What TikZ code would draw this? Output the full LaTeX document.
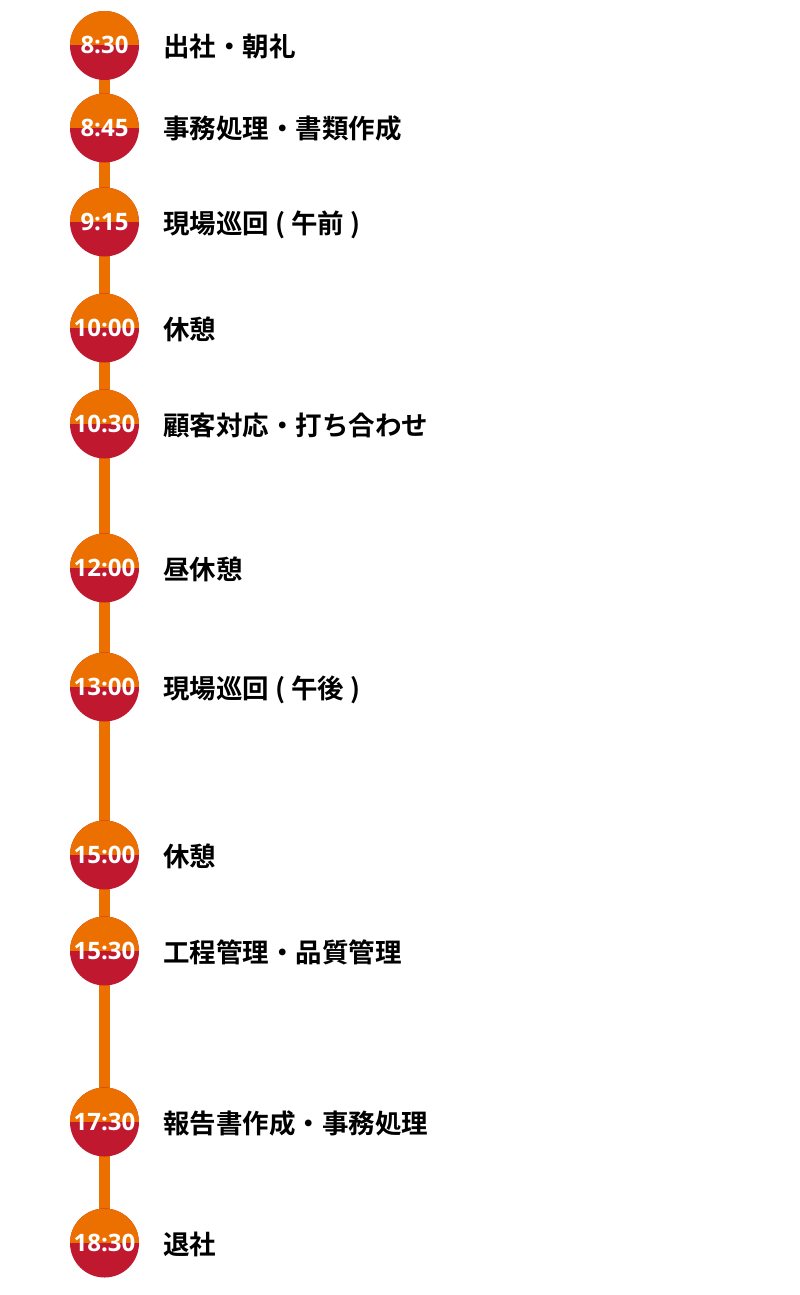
\documentclass[tikz,border=0pt]{standalone}
\usepackage{fontspec}
\newfontfamily\cjk{Noto Sans CJK JP}[BoldFont={Noto Sans CJK JP Bold}]
\newfontfamily\timefont{Open Sans}
\usetikzlibrary{backgrounds}
\definecolor{tlorange}{RGB}{236,112,0}
\definecolor{tlred}{RGB}{192,24,47}
\tikzset{
  timedot/.style={circle, minimum size=69pt, inner sep=0pt, fill=tlred,
    path picture={\fill[tlorange] (path picture bounding box.north west) rectangle (path picture bounding box.east);},
    text=white, font=\timefont\bfseries\fontsize{24}{24}\selectfont,
    text height=17pt, text depth=0pt},
  tasklabel/.style={anchor=base west, inner sep=0pt, font=\cjk\bfseries\fontsize{26.5}{26.5}\selectfont, text=black},
  timeline/.style={draw=tlorange, line width=11pt}
}
\begin{document}
\begin{tikzpicture}[x=1pt,y=-1pt]
\useasboundingbox (0,0) rectangle (800,1295);
\foreach \i/\y/\t/\l in {
  1/45.5/8:30/出社・朝礼,
  2/128/8:45/事務処理・書類作成,
  3/222/9:15/現場巡回 ( 午前 ),
  4/328/10:00/休憩,
  5/424/10:30/顧客対応・打ち合わせ,
  6/568/12:00/昼休憩,
  7/687/13:00/現場巡回 ( 午後 ),
  8/855/15:00/休憩,
  9/951/15:30/工程管理・品質管理,
  10/1122/17:30/報告書作成・事務処理,
  11/1243/18:30/退社}{
  \node[timedot] (t\i) at (104.5,\y) {\t};
  \node[tasklabel] (l\i) at (163,\y+11) {\l};
}
\begin{scope}[on background layer]
\foreach \i [evaluate=\i as \j using int(\i+1)] in {1,...,10}
  \draw[timeline] (t\i.center) -- (t\j.center);
\end{scope}
\end{tikzpicture}
\end{document}
